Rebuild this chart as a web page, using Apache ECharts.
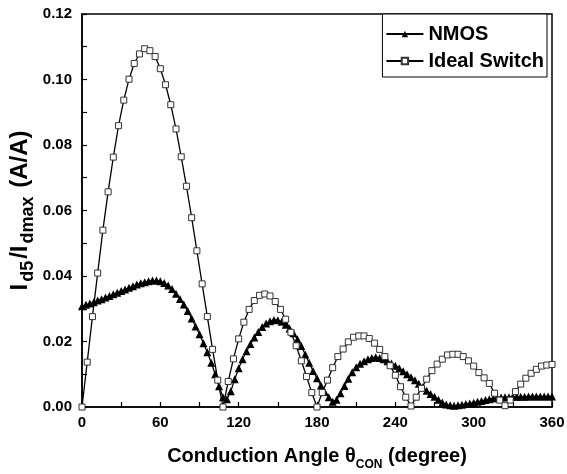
<!DOCTYPE html>
<html>
<head>
<meta charset="utf-8">
<script src="https://cdn.jsdelivr.net/npm/echarts@6/dist/echarts.min.js"></script>
<style>
  html, body { margin: 0; padding: 0; background: #fff; }
  #main { width: 567px; height: 474px; }
</style>
</head>
<body>
<div id="main"></div>
<script>
// conduction angle (degree) for each series
var nmosAngle = [0, 3, 6, 9, 12, 15, 18, 21, 24, 27, 30, 33, 36, 39, 42, 45, 48, 51, 54, 57,
  60, 63, 66, 69, 72, 75, 78, 81, 84, 87, 90, 93, 96, 99, 102, 105, 108, 111, 114, 117,
  120, 123, 126, 129, 132, 135, 138, 141, 144, 147, 150, 153, 156, 159, 162, 165, 168, 171, 174, 177,
  180, 183, 186, 189, 192, 195, 198, 201, 204, 207, 210, 213, 216, 219, 222, 225, 228, 231, 234, 237,
  240, 243, 246, 249, 252, 255, 258, 261, 264, 267, 270, 273, 276, 279, 282, 285, 288, 291, 294, 297,
  300, 303, 306, 309, 312, 315, 318, 321, 324, 327, 330, 333, 336, 339, 342, 345, 348, 351, 354, 357, 360]
var nmosValue = [0.0308, 0.0312, 0.0316, 0.0320, 0.0325, 0.0329, 0.0334, 0.0339, 0.0344, 0.0349,
  0.0354, 0.0359, 0.0364, 0.0369, 0.0374, 0.0378, 0.0381, 0.0384, 0.0386, 0.0386,
  0.0384, 0.0379, 0.0371, 0.0360, 0.0346, 0.0330, 0.0313, 0.0293, 0.0270, 0.0246,
  0.0222, 0.0195, 0.0167, 0.0135, 0.0100, 0.0063, 0.0030, 0.0024, 0.0048, 0.0085,
  0.0118, 0.0146, 0.0170, 0.0192, 0.0212, 0.0229, 0.0244, 0.0255, 0.0262, 0.0266,
  0.0265, 0.0260, 0.0251, 0.0240, 0.0225, 0.0207, 0.0186, 0.0160, 0.0135, 0.0110,
  0.0088, 0.0066, 0.0046, 0.0030, 0.0016, 0.0022, 0.0042, 0.0064, 0.0086, 0.0106,
  0.0121, 0.0132, 0.0140, 0.0146, 0.0150, 0.0152, 0.0150, 0.0146, 0.0140, 0.0133,
  0.0126, 0.0118, 0.0109, 0.0100, 0.0091, 0.0082, 0.0071, 0.0060, 0.0050, 0.0040,
  0.0031, 0.0022, 0.0014, 0.0008, 0.0005, 0.0004, 0.0005, 0.0007, 0.0009, 0.0011,
  0.0013, 0.0016, 0.0018, 0.0021, 0.0024, 0.0026, 0.0028, 0.0029, 0.0030, 0.0030,
  0.0031, 0.0031, 0.0031, 0.0031, 0.0032, 0.0032, 0.0032, 0.0032, 0.0032, 0.0032, 0.0032]

var idealAngle = [0, 4, 8, 12, 16, 20, 24, 28, 32, 36, 40, 44, 48, 52, 56, 60, 64, 68, 72, 76,
  80, 84, 88, 92, 96, 100, 104, 108, 112, 116, 120, 124, 128, 132, 136, 140, 144, 148, 152, 156,
  160, 164, 168, 172, 176, 180, 184, 188, 192, 196, 200, 204, 208, 212, 216, 220, 224, 228, 232, 236,
  240, 244, 248, 252, 256, 260, 264, 268, 272, 276, 280, 284, 288, 292, 296, 300, 304, 308, 312, 316,
  320, 324, 328, 332, 336, 340, 344, 348, 352, 356, 360]
var idealValue = [0, 0.0137, 0.0276, 0.0409, 0.0540, 0.0657, 0.0763, 0.0859, 0.0937, 0.1001,
  0.1049, 0.1078, 0.1094, 0.1088, 0.1070, 0.1033, 0.0984, 0.0923, 0.0849, 0.0764,
  0.0674, 0.0578, 0.0477, 0.0376, 0.0276, 0.0176, 0.0082, 0, 0.0078, 0.0147,
  0.0208, 0.0259, 0.0298, 0.0325, 0.0341, 0.0345, 0.0339, 0.0322, 0.0298, 0.0268,
  0.0228, 0.0187, 0.0141, 0.0093, 0.0044, 0, 0.0044, 0.0082, 0.0120, 0.0154,
  0.0177, 0.0199, 0.0213, 0.0217, 0.0217, 0.0209, 0.0195, 0.0176, 0.0154, 0.0126,
  0.0097, 0.0062, 0.0030, 0.0003, 0.0030, 0.0057, 0.0085, 0.0111, 0.0131, 0.0146,
  0.0159, 0.0161, 0.0161, 0.0154, 0.0141, 0.0125, 0.0105, 0.0089, 0.0072, 0.0042,
  0.0021, 0.0004, 0.0021, 0.0047, 0.0070, 0.0088, 0.0103, 0.0115, 0.0125, 0.0128, 0.0130]

var seriesNames = ['NMOS', 'Ideal Switch']
var xTicks = [0, 60, 120, 180, 240, 300, 360]
var yTicks = [0, 0.02, 0.04, 0.06, 0.08, 0.10, 0.12]

function pairs (xs, ys) {
  return xs.map(function (x, i) { return [x, ys[i]] })
}

var myChart = echarts.init(document.getElementById('main'))

var FONT = "'Liberation Sans', Arial, sans-serif"

var option = {
  animation: false,
  backgroundColor: '#fff',
  grid: {
    left: 82, right: 15, top: 14, bottom: 67,
    outerBoundsMode: 'none',
    show: true, borderColor: '#000', borderWidth: 1.5
  },
  legend: {
    data: seriesNames,
    orient: 'vertical',
    right: 20,
    top: 14,
    backgroundColor: '#fff',
    borderColor: '#000',
    borderWidth: 1,
    borderRadius: 0,
    padding: [10, 3, 6, 3],
    itemGap: 7,
    itemWidth: 37,
    itemHeight: 8,
    textStyle: { fontFamily: FONT, fontWeight: 'bold', fontSize: 20, color: '#000', lineHeight: 20 }
  },
  xAxis: {
    type: 'value',
    min: xTicks[0],
    max: xTicks[xTicks.length - 1],
    interval: 60,
    name: '{m|Conduction Angle θ}{s|CON}{m| (degree)}',
    nameLocation: 'middle',
    nameGap: 34,
    nameMoveOverlap: false,
    nameTextStyle: {
      rich: {
        m: { fontFamily: FONT, fontWeight: 'bold', fontSize: 20, color: '#000', lineHeight: 30 },
        s: { fontFamily: FONT, fontWeight: 'bold', fontSize: 12, color: '#000', lineHeight: 13, verticalAlign: 'bottom' }
      }
    },
    axisLine: { lineStyle: { color: '#000', width: 1.5 } },
    axisTick: { inside: true, length: 5, lineStyle: { color: '#000', width: 1.2 } },
    minorTick: { show: true, splitNumber: 2, length: 5, lineStyle: { color: '#000', width: 1.2 } },
    axisLabel: { margin: 8, fontFamily: FONT, fontWeight: 'bold', fontSize: 15, color: '#000' },
    splitLine: { show: false }
  },
  yAxis: {
    type: 'value',
    min: yTicks[0],
    max: yTicks[yTicks.length - 1],
    interval: 0.02,
    name: '{m|I}{s|d5}{m|/I}{s|dmax}{m| (A/A)}',
    nameLocation: 'middle',
    nameRotate: 90,
    nameGap: 45,
    nameMoveOverlap: false,
    nameTextStyle: {
      rich: {
        m: { fontFamily: FONT, fontWeight: 'bold', fontSize: 24, color: '#000', lineHeight: 34, padding: [0, 1, 0, 1] },
        s: { fontFamily: FONT, fontWeight: 'bold', fontSize: 18, color: '#000', lineHeight: 18, verticalAlign: 'bottom', padding: [0, 1, 0, 1] }
      }
    },
    axisLine: { lineStyle: { color: '#000', width: 1.5 } },
    axisTick: { inside: true, length: 5, lineStyle: { color: '#000', width: 1.2 } },
    minorTick: { show: true, splitNumber: 2, length: 5, lineStyle: { color: '#000', width: 1.2 } },
    axisLabel: {
      margin: 10, fontFamily: FONT, fontWeight: 'bold', fontSize: 15, color: '#000',
      formatter: function (v) { return v.toFixed(2) }
    },
    splitLine: { show: false }
  },
  series: [
    {
      name: seriesNames[0],
      type: 'line',
      data: pairs(nmosAngle, nmosValue),
      symbol: 'triangle',
      symbolSize: 8,
      showAllSymbol: true,
      lineStyle: { color: '#000', width: 1.3 },
      itemStyle: { color: '#000', borderColor: '#000', borderWidth: 0 },
      z: 2
    },
    {
      name: seriesNames[1],
      type: 'line',
      data: pairs(idealAngle, idealValue),
      symbol: 'rect',
      symbolSize: 6,
      showAllSymbol: true,
      lineStyle: { color: '#000', width: 1.3 },
      itemStyle: { color: '#fff', borderColor: '#333', borderWidth: 1 },
      z: 3
    }
  ]
}

myChart.setOption(option)
</script>
</body>
</html>
